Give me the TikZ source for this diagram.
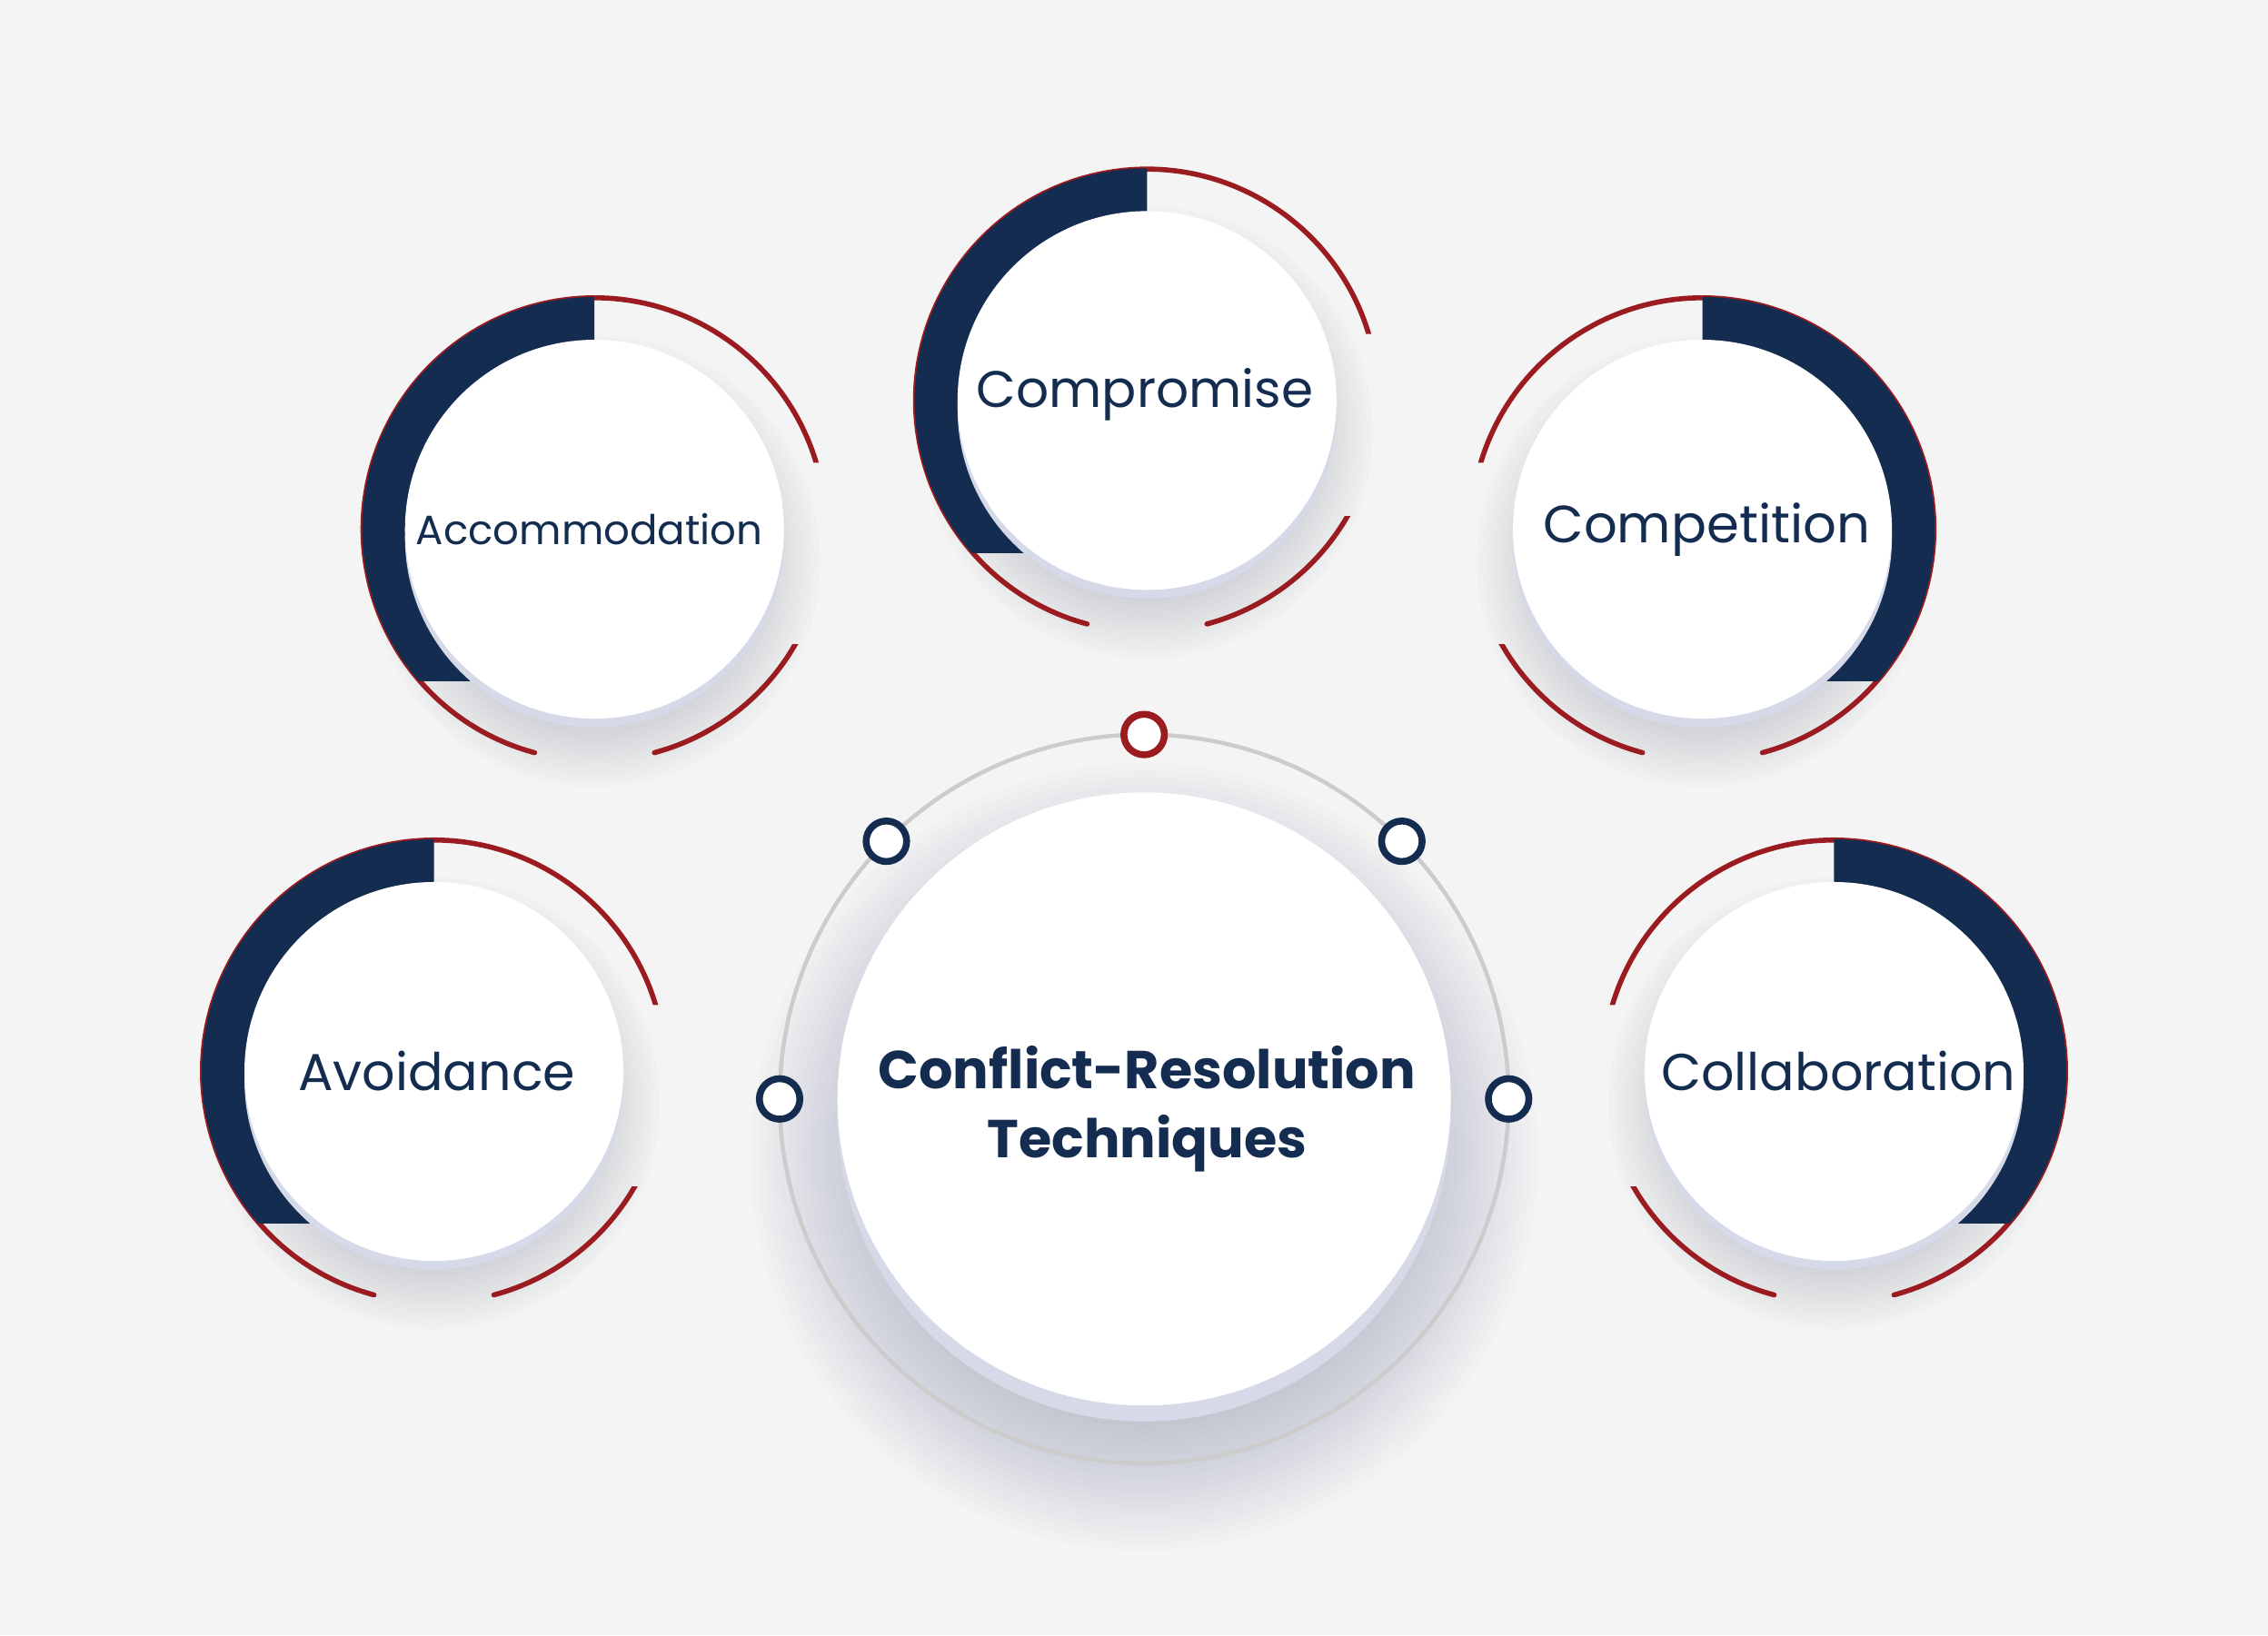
\documentclass[tikz,border=0pt]{standalone}
\usepackage{fontspec}
\setmainfont{Poppins}
\usetikzlibrary{calc}
\definecolor{bgc}{HTML}{F4F4F4}
\definecolor{navy}{HTML}{132C50}
\definecolor{redc}{HTML}{9B1C20}
\definecolor{ringc}{HTML}{CCCCCC}
\definecolor{lav}{HTML}{D5D9E8}
\definecolor{shadowc}{HTML}{6E7390}
\tikzset{
  satdeco/.pic={
    \foreach \i in {0,...,14}
      \fill[shadowc, opacity=0.022] (0,-22) circle ({156-4*\i});
    \begin{scope}
      \clip (-200,200) -- (200,200) -- (200,46) -- (0,46) -- (0,-200) -- (-200,-200) -- cycle;
      \draw[redc, line width=1pt, line cap=round] (10:160) arc[start angle=10, end angle=255, radius=160];
    \end{scope}
    \begin{scope}
      \clip (-200,-80) rectangle (200,-200);
      \draw[redc, line width=1pt, line cap=round] (285:160) arc[start angle=285, end angle=340, radius=160];
    \end{scope}
    \begin{scope}
      \clip (-200,-105) rectangle (0,200);
      \fill[navy, even odd rule] (0,0) circle (160.6) (0,0) circle (120);
    \end{scope}
    \fill[lav] (0,-6) circle (131);
    \fill[white] (0,0) circle (131);
  },
  centerdeco/.pic={
    \foreach \i in {0,...,17}
      \fill[shadowc, opacity=0.018] (0,-40) circle ({272-5*\i});
    \fill[lav] (0,-11) circle (212);
    \fill[white] (0,0) circle (212);
  },
  satlabel/.style={text=navy, inner sep=0pt},
  dotnode/.style={circle, fill=white, line width=1.35pt, minimum size=0.28cm, inner sep=0pt},
}
\begin{document}
\begin{tikzpicture}[x=0.01cm,y=0.01cm]
\fill[bgc] (0,0) rectangle (1568,1131);
\useasboundingbox (0,0) rectangle (1568,1131);

% central element
\coordinate (c) at (791,371);
\pic at (c) {centerdeco};
\draw[ringc, line width=0.8pt] (c) circle (252);
\node[satlabel, align=center, font=\fontsize{10.5}{13.7}\selectfont\bfseries] (center) at (793,364) {Conflict-Resolution\\Techniques};

\node[dotnode, draw=redc]  (d90)  at ($(c)+(90:252)$) {};
\node[dotnode, draw=navy]  (d135) at ($(c)+(135:252)$) {};
\node[dotnode, draw=navy]  (d45)  at ($(c)+(45:252)$) {};
\node[dotnode, draw=navy]  (d180) at ($(c)+(180:252)$) {};
\node[dotnode, draw=navy]  (d0)   at ($(c)+(0:252)$) {};

% satellites
\pic at (411,765) {satdeco};
\pic at (793,854) {satdeco};
\pic[xscale=-1] at (1177,765) {satdeco};
\pic at (300,390) {satdeco};
\pic[xscale=-1] at (1268,390) {satdeco};

\node[satlabel, font=\fontsize{8.05}{10}\selectfont] (accom) at (407.5,765) {Accommodation};
\node[satlabel, font=\fontsize{10.1}{12}\selectfont] (compro) at (791.5,858) {Compromise};
\node[satlabel, font=\fontsize{10.3}{12}\selectfont] (compet) at (1180,765) {Competition};
\node[satlabel, font=\fontsize{10.2}{12}\selectfont] (avoid) at (302,390) {Avoidance};
\node[satlabel, font=\fontsize{10.2}{12}\selectfont] (collab) at (1271,390) {Collaboration};
\end{tikzpicture}
\end{document}
